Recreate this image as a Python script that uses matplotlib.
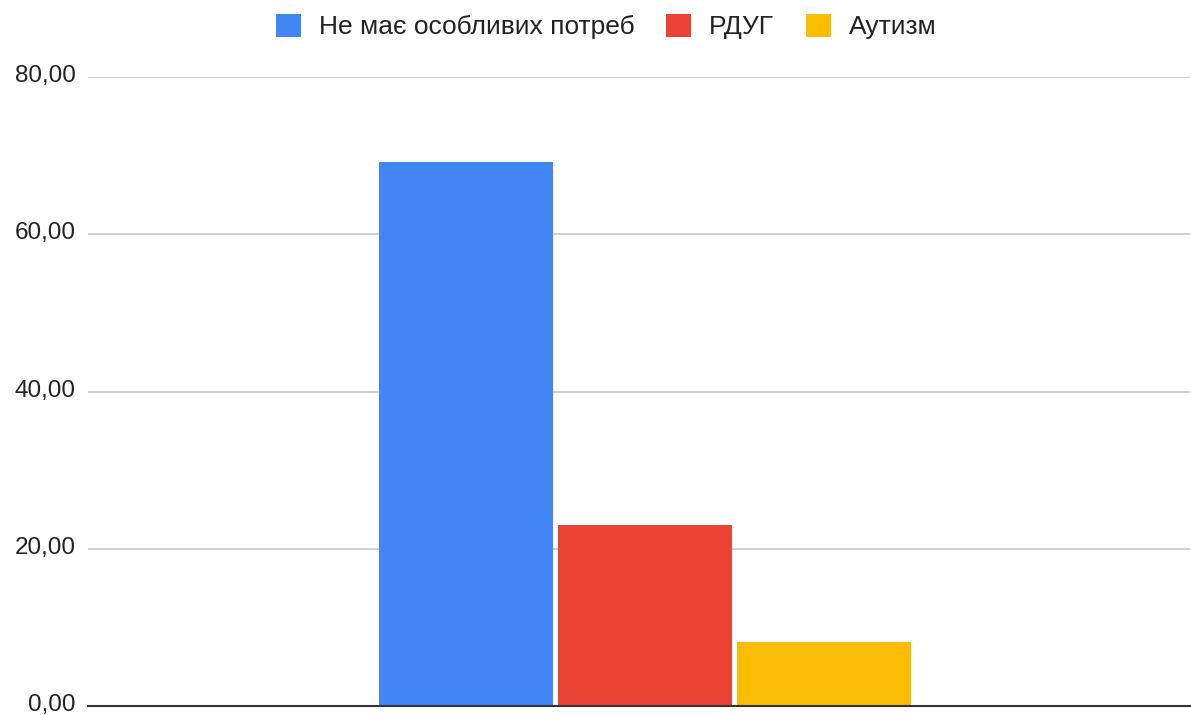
import matplotlib
matplotlib.use("Agg")
import matplotlib.pyplot as plt
from matplotlib.patches import Patch
from matplotlib.transforms import ScaledTranslation

plt.rcParams['font.family'] = ['Liberation Sans', 'DejaVu Sans']

# Частка учнів за типом особливих потреб, %
groups = ['Не має особливих потреб', 'РДУГ', 'Аутизм']
values = [69.2, 23.0, 8.1]
colors = ['#4285f4', '#ea4335', '#fbbc04']
yticks = [0, 20, 40, 60, 80]

fig = plt.figure(figsize=(11.91, 7.15), dpi=100)
ax = fig.add_axes([88 / 1191, 1 - 706 / 715, 1102 / 1191, 629 / 715])

step = 0.325
width = 0.317
for i, (name, val, col) in enumerate(zip(groups, values, colors)):
    ax.bar((i - 1) * step, val, width=width, color=col, label=name, zorder=3)

ax.set_xlim(-1.011, 0.989)
ax.set_ylim(0, 80)
ax.set_yticks(yticks)
ax.set_yticklabels([f"{v:.2f}".replace('.', ',') for v in yticks])
ax.set_xticks([])
ax.tick_params(axis='y', length=0, pad=9, labelsize=17.5, labelcolor='#222222')
ax.grid(axis='y', color='#cccccc', linewidth=1.3, zorder=0)
for s in ['top', 'right', 'left']:
    ax.spines[s].set_visible(False)
ax.spines['bottom'].set_color('#333333')
ax.spines['bottom'].set_linewidth(1.5)
ax.spines['bottom'].set_zorder(4)

# lift the tick labels a little so "0,00" stays inside the figure
lift = ScaledTranslation(0, 2.5 / 72, fig.dpi_scale_trans)
for lbl in ax.get_yticklabels():
    lbl.set_transform(lbl.get_transform() + lift)

handles = [Patch(facecolor=c, edgecolor='none', label=g) for g, c in zip(groups, colors)]
fig.legend(handles=handles, loc='upper center', bbox_to_anchor=(0.509, 1.014),
           ncol=3, frameon=False, fontsize=19, handlelength=0.95, handleheight=0.95,
           handletextpad=0.68, columnspacing=1.2, labelcolor='#222222')

fig.savefig('out.png', dpi=100)
